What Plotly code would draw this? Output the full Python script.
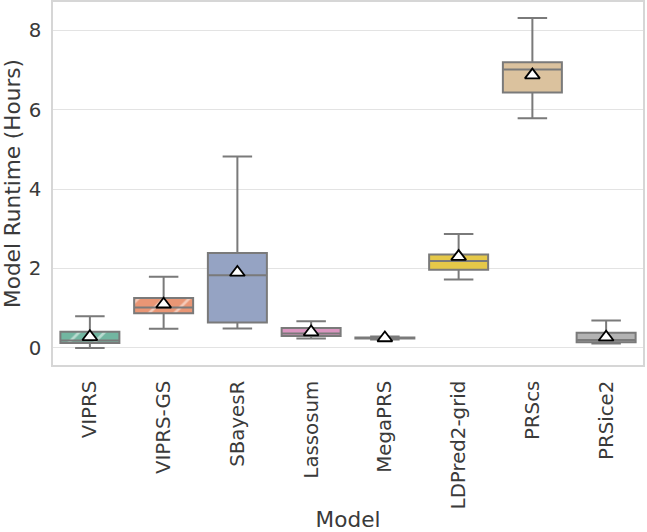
import colorsys
import plotly.graph_objects as go

models = ["VIPRS", "VIPRS-GS", "SBayesR", "Lassosum", "MegaPRS", "LDPred2-grid", "PRScs", "PRSice2"]
lower_whisker = [0.00, 0.485, 0.49, 0.24, 0.21, 1.72, 5.78, 0.11]
q1 = [0.125, 0.87, 0.64, 0.30, 0.235, 1.97, 6.43, 0.14]
median = [0.19, 1.02, 1.83, 0.36, 0.25, 2.19, 7.01, 0.20]
q3 = [0.41, 1.26, 2.39, 0.50, 0.265, 2.35, 7.19, 0.38]
upper_whisker = [0.80, 1.79, 4.82, 0.67, 0.29, 2.87, 8.31, 0.69]
means = [0.28, 1.10, 1.90, 0.40, 0.25, 2.30, 6.87, 0.27]
hatched = [True, True, False, False, False, False, False, False]
y_ticks = [0, 2, 4, 6, 8]

set2 = ["#66c2a5", "#fc8d62", "#8da0cb", "#e78ac3", "#a6d854", "#ffd92f", "#e5c494", "#b3b3b3"]


def desaturate(hexc, prop=0.75):
    r, g, b = (int(hexc[i:i + 2], 16) / 255 for i in (1, 3, 5))
    h, l, s = colorsys.rgb_to_hls(r, g, b)
    r, g, b = colorsys.hls_to_rgb(h, l, s * prop)
    return "#%02x%02x%02x" % (round(r * 255), round(g * 255), round(b * 255))


colors = [desaturate(c) for c in set2]
line_col = "#7a7a7a"
font_col = "#3a3a3a"

fig = go.Figure()

# hatched fills (drawn beneath box outlines)
for i, m in enumerate(models):
    if hatched[i]:
        fig.add_trace(go.Bar(
            x=[m], y=[q3[i] - q1[i]], base=[q1[i]], width=0.8,
            marker=dict(color=colors[i], line=dict(width=0),
                        pattern=dict(shape="/", fgcolor="white", bgcolor=colors[i],
                                     size=18, solidity=0.15)),
            showlegend=False, hoverinfo="skip"))

for i, m in enumerate(models):
    fig.add_trace(go.Box(
        x=[m], q1=[q1[i]], median=[median[i]], q3=[q3[i]],
        lowerfence=[lower_whisker[i]], upperfence=[upper_whisker[i]],
        width=0.8, whiskerwidth=0.5,
        fillcolor="rgba(0,0,0,0)" if hatched[i] else colors[i],
        line=dict(color=line_col, width=2),
        boxpoints=False, showlegend=False, name=m))

fig.add_trace(go.Scatter(
    x=models, y=means, mode="markers",
    marker=dict(symbol="triangle-up", size=13, color="white",
                line=dict(color="black", width=1.8)),
    showlegend=False))

fig.update_layout(
    width=647, height=532,
    margin=dict(l=53, r=4, t=2, b=167),
    paper_bgcolor="white", plot_bgcolor="white",
    font=dict(family="DejaVu Sans", size=19.8, color=font_col),
    boxmode="overlay", barmode="overlay",
    xaxis=dict(
        title=dict(text="Model", standoff=6, font=dict(size=21.6)),
        tickangle=-90, showgrid=False, ticks="", tickfont=dict(size=19.8),
        ticklabelstandoff=6, automargin=False,
        showline=True, mirror=True, linecolor="#d6d6d6", linewidth=1.5,
        categoryorder="array", categoryarray=models, range=[-0.5, 7.5]),
    yaxis=dict(
        title=dict(text="Model Runtime (Hours)", standoff=4, font=dict(size=21.6)),
        range=[-0.43, 8.71], tickvals=y_ticks, tickfont=dict(size=19.8),
        ticklabelstandoff=6, automargin=False,
        showgrid=True, gridcolor="#e3e3e3", gridwidth=1.2, zeroline=False, ticks="",
        showline=True, mirror=True, linecolor="#d6d6d6", linewidth=1.5),
)

fig.write_html("out.html", config={"displayModeBar": False},
               post_script="document.body.style.margin='0px';")
